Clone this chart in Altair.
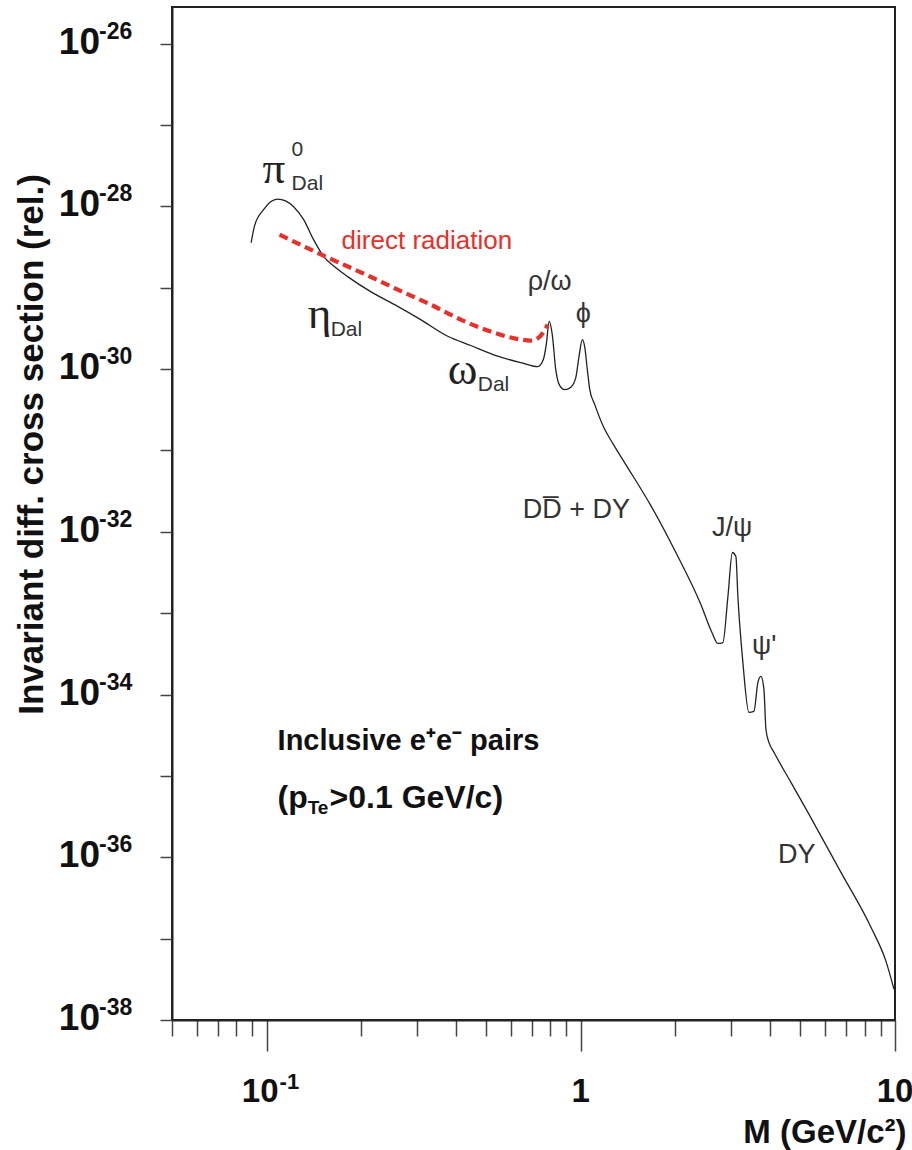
import altair as alt
import pandas as pd

SANS = "Liberation Sans"
SERIF = "Liberation Serif"
RED = "#e8302b"

# ---- total dilepton spectrum (black curve) ----
mass = [0.0893, 0.0916, 0.0978, 0.1030, 0.1084, 0.1149, 0.1219, 0.1312, 0.1411, 0.1518,
        0.1658, 0.1811, 0.2144, 0.2614, 0.3093, 0.3771, 0.4464, 0.5441, 0.6438, 0.7297,
        0.7600, 0.7764, 0.7937, 0.8114, 0.8324, 0.8571, 0.8892, 0.9294, 0.9640, 0.9890,
        1.011, 1.030, 1.049, 1.068, 1.108, 1.184, 1.264, 1.391, 1.671, 2.007,
        2.411, 2.614, 2.731, 2.833, 2.939, 3.037, 3.116, 3.162, 3.280, 3.428,
        3.556, 3.662, 3.743, 3.827, 3.884, 3.970, 4.119, 4.665, 5.283, 6.730,
        8.386, 9.361, 9.93]
sigma = [3.58e-29, 5.79e-29, 9.11e-29, 1.14e-28, 1.23e-28, 1.17e-28, 9.9e-29, 6.87e-29, 3.90e-29, 2.43e-29,
         1.77e-29, 1.37e-29, 8.95e-30, 5.91e-30, 4.06e-30, 2.53e-30, 1.95e-30, 1.44e-30, 1.20e-30, 1.07e-30,
         1.31e-30, 2.00e-30, 3.89e-30, 2.65e-30, 9.86e-31, 6.27e-31, 5.60e-31, 6.00e-31, 7.86e-31, 1.51e-30,
         2.30e-30, 1.84e-30, 9.86e-31, 5.60e-31, 3.66e-31, 1.91e-31, 1.22e-31, 6.71e-32, 2.10e-32, 5.57e-33,
         1.28e-33, 5.79e-34, 4.25e-34, 4.36e-34, 1.60e-33, 5.57e-33, 4.98e-33, 1.60e-33, 2.48e-34, 6.03e-35,
         6.20e-35, 1.41e-34, 1.67e-34, 1.16e-34, 3.72e-35, 2.58e-35, 1.95e-35, 8.32e-36, 3.56e-36, 6.52e-37,
         1.38e-37, 5.26e-38, 2.38e-38]

# ---- direct radiation (red dashed) ----
dr_mass = [0.1100, 0.1518, 0.2037, 0.2614, 0.3330, 0.4148, 0.5169, 0.6209, 0.6931, 0.7348, 0.7624, 0.7852]
dr_sigma = [4.49e-29, 2.48e-29, 1.49e-29, 9.48e-30, 6.20e-30, 4.06e-30, 2.89e-30, 2.37e-30, 2.24e-30,
            2.44e-30, 2.89e-30, 3.52e-30]

# ---- axes ----
x_tick_values = [0.05, 0.06, 0.07, 0.08, 0.09, 0.1, 0.2, 0.3, 0.4, 0.5, 0.6, 0.7, 0.8, 0.9,
                 1, 2, 3, 4, 5, 6, 7, 8, 9, 10]
y_tick_values = [1e-26, 1e-27, 1e-28, 1e-29, 1e-30, 1e-31, 1e-32, 1e-33, 1e-34, 1e-35,
                 1e-36, 1e-37, 1e-38]
y_label_values = [1e-26, 1e-28, 1e-30, 1e-32, 1e-34, 1e-36, 1e-38]
y_label_exps = ["-26", "-28", "-30", "-32", "-34", "-36", "-38"]
x_pow_values = [0.1]
x_pow_exps = ["-1"]
x_plain_values = [1, 10]
x_plain_texts = ["1", "10"]

# ---- annotations (position in data units: M, sigma) ----
greek_text = ["π", "η", "ω"]
greek_M = [0.0971, 0.1351, 0.3771]
greek_sigma = [1.95e-28, 3.24e-30, 6.64e-31]

small_text = ["0", "Dal", "Dal", "Dal"]
small_M = [0.1201, 0.1201, 0.1599, 0.4699]
small_sigma = [4.20e-28, 1.60e-28, 2.58e-30, 5.44e-31]

label_text = ["ρ/ω", "ϕ", "DD̅ + DY", "J/ψ", "ψ'", "DY"]
label_M = [0.6780, 0.9638, 0.6535, 2.614, 3.505, 4.240]
label_sigma = [9.48e-30, 3.84e-30, 1.46e-32, 9.01e-33, 3.11e-34, 8.41e-37]

red_text = ["direct radiation"]
red_M = [0.1733]
red_sigma = [3.02e-29]

bold_text = ["Inclusive e⁺e⁻ pairs"]
bold_M = [0.1084]
bold_sigma = [2.06e-35]
bold2_text = ["(p", ">0.1 GeV/c)"]
bold2_M = [0.1084, 0.1587]
bold2_sigma = [3.99e-36, 3.99e-36]
sub_text = ["Te"]
sub_M = [0.1351]
sub_sigma = [3.37e-36]

xs = alt.Scale(type="log", domain=[0.05, 10], nice=False)
ys = alt.Scale(type="log", domain=[1e-38, 2.82e-26], nice=False)

x_axis = alt.Axis(
    values=x_tick_values, labels=False, grid=False,
    tickSize={"condition": {"test": "datum.value == 0.1 || datum.value == 1 || datum.value == 10", "value": 31}, "value": 16},
    title="M (GeV/c²)", titleFont=SANS, titleFontSize=33, titleFontWeight="bold", titleColor="#111",
    titleAlign="right", titleAnchor="end", titleX=734, titleY=122, titleBaseline="alphabetic",
)
y_axis = alt.Axis(
    values=y_tick_values, labels=False, grid=False, tickSize=12,
    title="Invariant diff. cross section (rel.)", titleFont=SANS, titleFontSize=35,
    titleFontWeight="bold", titleColor="#111", titleAngle=270, titleAlign="center",
    titleBaseline="middle", titleX=-141, titleY=437,
)

df_curve = pd.DataFrame({"M": mass, "sigma": sigma})
df_dr = pd.DataFrame({"M": dr_mass, "sigma": dr_sigma})

curve = alt.Chart(df_curve).mark_line(color="#222", strokeWidth=1.3, interpolate="monotone").encode(
    x=alt.X("M:Q", scale=xs, axis=x_axis),
    y=alt.Y("sigma:Q", scale=ys, axis=y_axis),
)
direct = alt.Chart(df_dr).mark_line(color=RED, strokeWidth=4.2, strokeDash=[9, 5], interpolate="monotone").encode(
    x=alt.X("M:Q", scale=xs),
    y=alt.Y("sigma:Q", scale=ys),
)

# tick labels
df_ylab = pd.DataFrame({"sigma": y_label_values, "base": ["10"] * len(y_label_values), "exp": y_label_exps})
ylab_base = alt.Chart(df_ylab).mark_text(align="right", baseline="middle", font=SANS, fontSize=37,
                                         fontWeight="bold", color="#111", dy=-1).encode(
    x=alt.value(-72), y=alt.Y("sigma:Q", scale=ys), text="base:N")
ylab_exp = alt.Chart(df_ylab).mark_text(align="left", baseline="middle", font=SANS, fontSize=23,
                                        fontWeight="bold", color="#111", dy=-12).encode(
    x=alt.value(-73), y=alt.Y("sigma:Q", scale=ys), text="exp:N")

df_xpow = pd.DataFrame({"M": x_pow_values, "base": ["10"], "exp": x_pow_exps})
xpow_base = alt.Chart(df_xpow).mark_text(align="right", baseline="middle", font=SANS, fontSize=33,
                                         fontWeight="bold", color="#111", dx=12).encode(
    x=alt.X("M:Q", scale=xs), y=alt.value(1085), text="base:N")
xpow_exp = alt.Chart(df_xpow).mark_text(align="left", baseline="middle", font=SANS, fontSize=22,
                                        fontWeight="bold", color="#111", dx=13, dy=-10).encode(
    x=alt.X("M:Q", scale=xs), y=alt.value(1085), text="exp:N")
df_xplain = pd.DataFrame({"M": x_plain_values, "base": x_plain_texts})
xplain = alt.Chart(df_xplain).mark_text(align="center", baseline="middle", font=SANS, fontSize=33,
                                        fontWeight="bold", color="#111").encode(
    x=alt.X("M:Q", scale=xs), y=alt.value(1085), text="base:N")


def ann(texts, ms, ss, **style):
    df = pd.DataFrame({"M": ms, "sigma": ss, "t": texts})
    return alt.Chart(df).mark_text(align="left", baseline="alphabetic", **style).encode(
        x=alt.X("M:Q", scale=xs), y=alt.Y("sigma:Q", scale=ys), text="t:N")


greek = ann(greek_text, greek_M, greek_sigma, font=SERIF, fontSize=45, color="#222")
small = ann(small_text, small_M, small_sigma, font=SANS, fontSize=21, color="#333")
labels = ann(label_text, label_M, label_sigma, font=SANS, fontSize=27, color="#333")
redlab = ann(red_text, red_M, red_sigma, font=SANS, fontSize=26, color=RED)
boldlab = ann(bold_text, bold_M, bold_sigma, font=SANS, fontSize=29, fontWeight="bold", color="#111")
bold2lab = ann(bold2_text, bold2_M, bold2_sigma, font=SANS, fontSize=32, fontWeight="bold", color="#111")
sublab = ann(sub_text, sub_M, sub_sigma, font=SANS, fontSize=19, fontWeight="bold", color="#111")

chart = alt.layer(
    curve, direct, ylab_base, ylab_exp, xpow_base, xpow_exp, xplain,
    greek, small, labels, redlab, boldlab, bold2lab, sublab,
).properties(
    width=723, height=1013,
    autosize=alt.AutoSizeParams(type="none"),
    padding={"left": 172, "top": 7, "right": 17, "bottom": 130},
    background="white",
).configure_view(
    stroke="#222", strokeWidth=2,
).configure_axis(
    grid=False, domainColor="#222", domainWidth=2, tickColor="#444", tickWidth=1.5,
)

chart.save("out.html", embed_options={"renderer": "svg", "actions": False})
